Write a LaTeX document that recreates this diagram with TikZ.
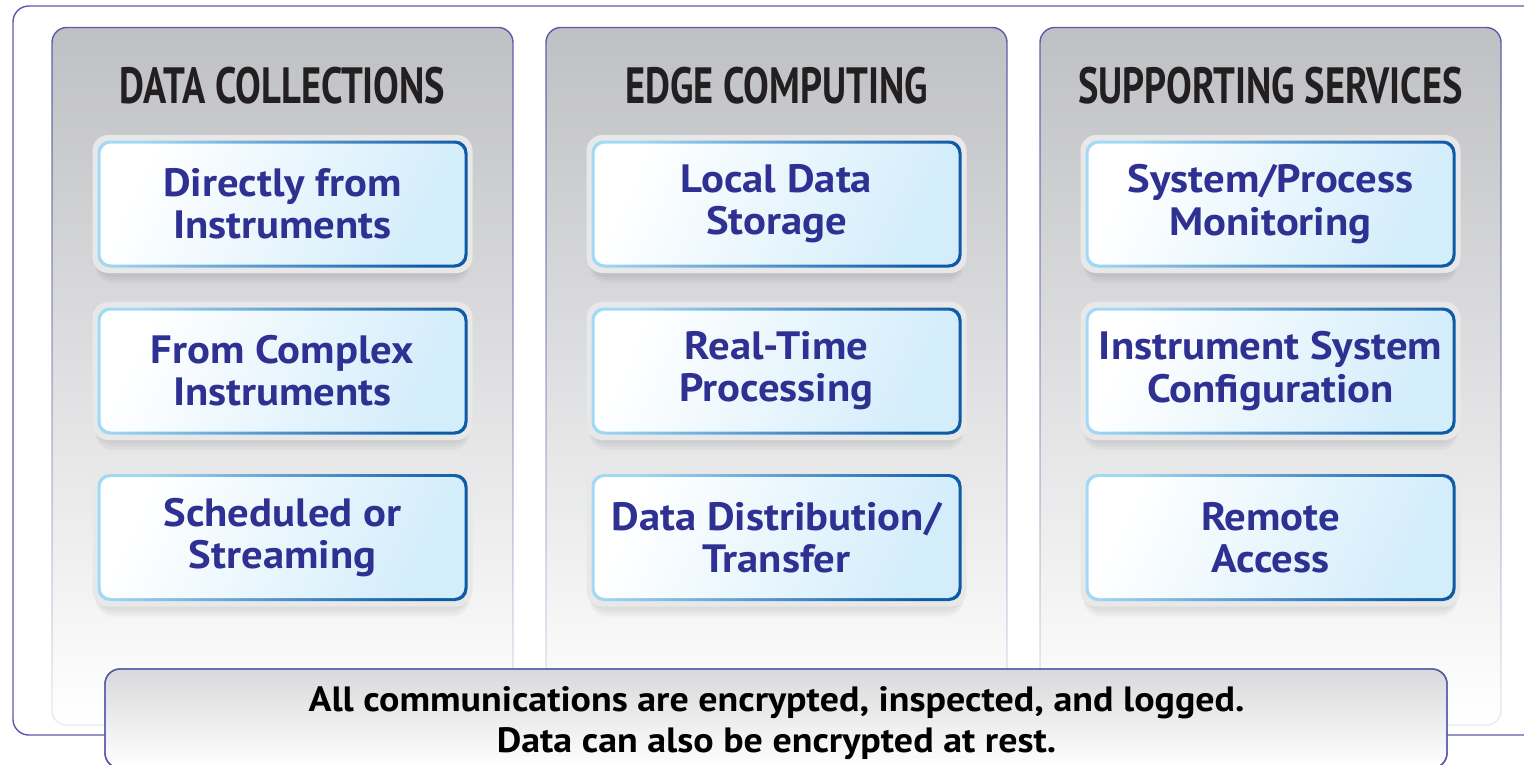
\documentclass[tikz,border=0pt]{standalone}
\usepackage{fontspec}
\setmainfont[FakeStretch=1.08]{PT Sans}
\newfontfamily\headfont[FakeStretch=0.755]{PT Sans}
\usetikzlibrary{fadings}

\definecolor{frameblue}{HTML}{5B5BA8}
\definecolor{textblue}{HTML}{2E3192}
\definecolor{colgray}{HTML}{BFC0C3}
\definecolor{boxblue}{HTML}{D3EDFB}
\definecolor{edgelight}{HTML}{A2DAF6}
\definecolor{edgemid}{HTML}{26B0E6}
\definecolor{edgedark}{HTML}{0D5AA7}
\definecolor{headblack}{HTML}{231F20}

\tikzfading[name=fade down, top color=transparent!0, bottom color=transparent!88]

\tikzset{
  frame/.style={draw=frameblue, line width=0.8pt, rounded corners=9pt},
  column/.style={rounded corners=8.5pt, top color=colgray, middle color=colgray!45!white, bottom color=white},
  columnedge/.style={draw=frameblue, line width=0.8pt, rounded corners=8.5pt, path fading=fade down},
  halo/.style={fill=white!82!gray, rounded corners=9pt},
  boxedge/.style={rounded corners=7pt, left color=edgelight, middle color=edgemid, right color=edgedark, shading angle=72},
  boxface/.style={rounded corners=6pt, left color=white, right color=boxblue, shading angle=65},
  boxtext/.style={align=center, text=textblue, font=\bfseries\fontsize{22.5}{24}\selectfont},
  headtext/.style={text=headblack, font=\headfont\bfseries\fontsize{29}{30}\selectfont, inner sep=0pt},
  footerbox/.style={draw=frameblue, line width=0.8pt, rounded corners=8.5pt, top color=colgray!60!white, middle color=white, bottom color=white},
  notetext/.style={align=center, text=black, font=\bfseries\fontsize{20}{23.5}\selectfont}
}

% one blue button: name, x, y, text
\newcommand\infobox[4]{%
  \foreach \d in {3,6,9}
    \fill[black, opacity=0.03, rounded corners=10pt] (#2-187,#3-64+\d) rectangle (#2+187,#3+70+\d);
  \fill[halo] (#2-190,#3-69) rectangle (#2+190,#3+69);
  \shade[boxedge] (#2-185,#3-63.5) rectangle (#2+185,#3+63.5);
  \shade[boxface] (#2-182,#3-60.5) rectangle (#2+182,#3+60.5);
  \node[boxtext] (#1) at (#2,#3) {#4};
}

\begin{document}
\begin{tikzpicture}[x=0.02cm, y=-0.02cm]
  \useasboundingbox (0,0) rectangle (1524,764);
  \clip (0,0) rectangle (1524,764);

  % outer frame
  \draw[frame] (13,6) rectangle (1600,735);

  % the three columns
  \foreach \cx in {282.5,776.5,1270.5} {
    \shade[column] (\cx-230.5,27) rectangle (\cx+230.5,725);
    \draw[columnedge] (\cx-230.5,27) rectangle (\cx+230.5,725);
  }

  \node[headtext] (hdData) at (282.5,85.5) {DATA COLLECTIONS};
  \node[headtext] (hdEdge) at (776.5,85.5) {EDGE COMPUTING};
  \node[headtext] (hdSupport) at (1270.5,85.5) {SUPPORTING SERVICES};

  \infobox{dcDirect}{282.5}{204}{Directly from\\Instruments}
  \infobox{dcComplex}{282.5}{371}{From Complex\\Instruments}
  \infobox{dcSched}{282.5}{537.5}{Scheduled or\\Streaming}

  \infobox{ecStorage}{776.5}{204}{Local Data\\Storage}
  \infobox{ecRealtime}{776.5}{371}{Real-Time\\Processing}
  \infobox{ecTransfer}{776.5}{537.5}{Data Distribution/\\Transfer}

  \infobox{ssMonitor}{1270.5}{204}{System/Process\\Monitoring}
  \infobox{ssConfig}{1270.5}{371}{Instrument System\\Configuration}
  \infobox{ssRemote}{1270.5}{537.5}{Remote\\Access}

  % note along the bottom
  \shade[footerbox] (105,669) rectangle (1447,768);
  \draw[frameblue, line width=0.8pt, rounded corners=8.5pt] (105,669) rectangle (1447,768);
  \node[notetext] (encNote) at (776.5,723) {All communications are encrypted, inspected, and logged.\\Data can also be encrypted at rest.};
\end{tikzpicture}
\end{document}
